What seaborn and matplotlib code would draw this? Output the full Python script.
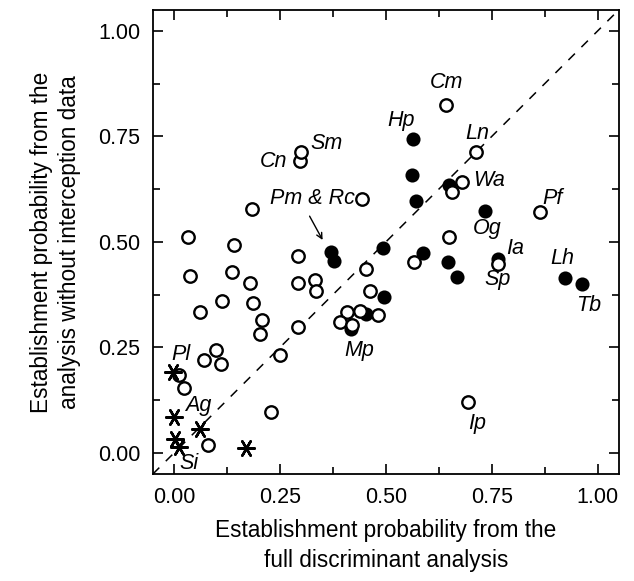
import numpy as np
import pandas as pd
import matplotlib
matplotlib.use("Agg")
import matplotlib.pyplot as plt
from matplotlib.ticker import MultipleLocator
import seaborn as sns

# Open circles
open_x = [0.033, 0.142, 0.293, 0.039, 0.137, 0.180, 0.292, 0.333, 0.335, 0.114,
          0.187, 0.062, 0.207, 0.202, 0.292, 0.250, 0.099, 0.072, 0.111, 0.012,
          0.024, 0.081, 0.229, 0.185, 0.297, 0.301, 0.445, 0.453, 0.463, 0.409,
          0.439, 0.481, 0.393, 0.420, 0.642, 0.714, 0.681, 0.656, 0.864, 0.650,
          0.567, 0.764, 0.693]
open_y = [0.513, 0.492, 0.466, 0.420, 0.430, 0.404, 0.404, 0.411, 0.385, 0.359,
          0.355, 0.334, 0.314, 0.282, 0.298, 0.232, 0.243, 0.221, 0.212, 0.184,
          0.153, 0.020, 0.098, 0.578, 0.691, 0.714, 0.602, 0.437, 0.384, 0.334,
          0.336, 0.327, 0.310, 0.304, 0.825, 0.714, 0.643, 0.618, 0.570, 0.513,
          0.453, 0.449, 0.121]

# Filled circles
filled_x = [0.370, 0.378, 0.494, 0.496, 0.453, 0.417, 0.565, 0.561, 0.572,
            0.587, 0.648, 0.667, 0.650, 0.734, 0.764, 0.924, 0.962]
filled_y = [0.476, 0.455, 0.486, 0.370, 0.330, 0.295, 0.745, 0.658, 0.598,
            0.473, 0.452, 0.417, 0.634, 0.574, 0.459, 0.415, 0.400]

# Asterisks
star_x = [-0.002, 0.000, 0.062, 0.003, 0.012, 0.169]
star_y = [0.191, 0.086, 0.058, 0.034, 0.015, 0.011]

# Species labels
lab_text = ["Cm", "Hp", "Ln", "Wa", "Pf", "Og", "Ia", "Sp", "Lh", "Tb",
            "Cn", "Sm", "Pm & Rc", "Mp", "Pl", "Ag", "Si", "Ip"]
lab_x = [0.643, 0.536, 0.716, 0.744, 0.893, 0.739, 0.806, 0.763, 0.917, 0.978,
         0.234, 0.359, 0.326, 0.437, 0.017, 0.057, 0.035, 0.716]
lab_y = [0.877, 0.787, 0.757, 0.645, 0.603, 0.532, 0.485, 0.411, 0.461, 0.350,
         0.690, 0.733, 0.603, 0.243, 0.234, 0.113, -0.026, 0.069]

sns.set_style("ticks")
plt.rcParams['font.family'] = ['Liberation Sans', 'DejaVu Sans']
plt.rcParams['text.color'] = 'black'
plt.rcParams['axes.labelcolor'] = 'black'
plt.rcParams['xtick.color'] = 'black'
plt.rcParams['ytick.color'] = 'black'
plt.rcParams['axes.edgecolor'] = 'black'

fig = plt.figure(figsize=(6.34, 5.81), dpi=100)
ax = fig.add_axes([0.241, 0.184, 0.735, 0.799])

# 1:1 line
ax.plot([-0.05, 1.05], [-0.05, 1.05], color='black', lw=1.1,
        dashes=(6, 6), zorder=1)

sns.scatterplot(x=filled_x, y=filled_y, ax=ax, marker='o', s=80,
                color='black', edgecolor='black', linewidth=1.2, zorder=3)
sns.scatterplot(x=open_x, y=open_y, ax=ax, marker='o', s=80,
                facecolor='white', edgecolor='black', linewidth=1.7, zorder=4)
sns.scatterplot(x=star_x, y=star_y, ax=ax, marker=(6, 2, 90), s=140,
                color='black', linewidth=1.8, zorder=5)

for t, x, y in zip(lab_text, lab_x, lab_y):
    ax.text(x, y, t, fontsize=15.5, style='italic', ha='center', va='center',
            zorder=6)

ax.annotate("", xy=(0.354, 0.499), xytext=(0.317, 0.567),
            arrowprops=dict(arrowstyle='->', color='black', lw=1.0))

ax.set_xlim(-0.05, 1.05)
ax.set_ylim(-0.05, 1.05)
ax.xaxis.set_major_locator(MultipleLocator(0.25))
ax.yaxis.set_major_locator(MultipleLocator(0.25))
ax.xaxis.set_minor_locator(MultipleLocator(0.125))
ax.yaxis.set_minor_locator(MultipleLocator(0.125))
ax.tick_params(which='both', direction='in', top=True, right=True,
               width=1.2, labelsize=15.5, pad=9)
ax.tick_params(which='major', length=7)
ax.tick_params(which='minor', length=5)
for sp in ax.spines.values():
    sp.set_linewidth(1.3)
    sp.set_visible(True)

ax.set_xlabel("Establishment probability from the\nfull discriminant analysis",
              fontsize=16.3, labelpad=8, linespacing=1.4)
ax.set_ylabel("Establishment probability from the\nanalysis without interception data",
              fontsize=16.3, labelpad=12, linespacing=1.3)

plt.savefig("out.png", dpi=100)
